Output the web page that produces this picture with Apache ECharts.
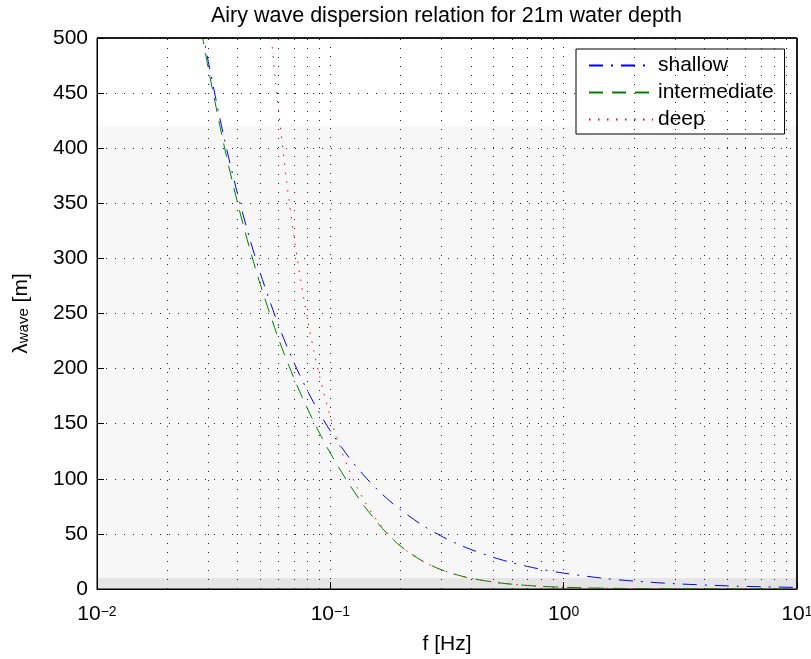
<!DOCTYPE html>
<html><head><meta charset="utf-8">
<script src="https://cdn.jsdelivr.net/npm/echarts@6/dist/echarts.min.js"></script>
<style>html,body{margin:0;padding:0;background:#fff}#c{width:811px;height:659px}</style>
</head><body><div id="c"></div>
<script>
// ---- data ----
const freq = [0.028, 0.03, 0.035, 0.04, 0.045, 0.05, 0.06, 0.07, 0.08, 0.09, 0.1, 0.12, 0.14, 0.16, 0.18, 0.2, 0.25, 0.3, 0.35, 0.4, 0.5, 0.6, 0.7, 0.8, 1, 1.5, 2, 3, 5, 7, 10];
const shallow = [512.6, 478.4, 410.1, 358.8, 319.0, 287.1, 239.2, 205.0, 179.4, 159.5, 143.5, 119.6, 102.5, 89.7, 79.7, 71.8, 57.4, 47.8, 41.0, 35.9, 28.7, 23.9, 20.5, 17.9, 14.4, 9.57, 7.18, 4.78, 2.87, 2.05, 1.44];
const intermediate = [506.9, 472.4, 403.0, 350.7, 309.8, 276.9, 227.0, 190.8, 163.2, 141.2, 123.3, 95.6, 75.1, 59.6, 47.8, 38.9, 25.0, 17.35, 12.75, 9.76, 6.25, 4.34, 3.19, 2.44, 1.56, 0.69, 0.39, 0.17, 0.06, 0.03, 0.016];
const deepFreq = [0.055, 0.058, 0.06, 0.065, 0.07, 0.075, 0.08, 0.085, 0.09, 0.1, 0.11, 0.12, 0.13, 0.14, 0.15, 0.16, 0.18, 0.2, 0.225, 0.25, 0.275, 0.3, 0.35, 0.4, 0.5, 0.6, 0.7, 0.8, 1, 1.5, 2, 3, 5, 7, 10];
const deep = [516.1, 464.1, 433.7, 369.5, 318.6, 277.6, 243.9, 216.1, 192.8, 156.1, 129.0, 108.4, 92.4, 79.7, 69.4, 61.0, 48.2, 39.0, 30.8, 25.0, 20.6, 17.35, 12.75, 9.76, 6.25, 4.34, 3.19, 2.44, 1.56, 0.69, 0.39, 0.17, 0.06, 0.03, 0.016];
const seriesNames = ['shallow', 'intermediate', 'deep'];
const xMinor = [0.02, 0.03, 0.04, 0.05, 0.06, 0.07, 0.08, 0.09, 0.2, 0.3, 0.4, 0.5, 0.6, 0.7, 0.8, 0.9, 2, 3, 4, 5, 6, 7, 8, 9];
const bands = [[0, 10], [10, 420]];
const xRange = [0.01, 10];
const yRange = [0, 500];
const yStep = 50;
const titleText = 'Airy wave dispersion relation for 21m water depth';

// ---- chart ----
const FONT = '"Liberation Sans", Arial, Helvetica, sans-serif';
const bandColors = ['#e5e5e5', '#f7f7f7'];
function gridDot() { return { color: '#222', width: 1, type: [1, 8] }; }

function supLabel(v) {
  const e = Math.round(Math.log10(v));
  return '{b|10}{s|' + (e < 0 ? '\u2212' + (-e) : String(e)) + '}';
}
function axisCommon() {
  return {
    axisLine: { show: true, onZero: false, lineStyle: { color: '#000', width: 1 } },
    axisTick: { show: true, inside: true, length: 7, lineStyle: { color: '#000' } },
    z: 3
  };
}

const chart = echarts.init(document.getElementById('c'), null, { renderer: 'canvas' });
chart.setOption({
  animation: false,
  backgroundColor: '#fff',
  textStyle: { fontFamily: FONT },
  title: {
    text: titleText,
    left: 206, top: 0,
    textStyle: { fontFamily: FONT, fontSize: 21.5, fontWeight: 'normal', color: '#000' }
  },
  grid: {
    left: 97, right: 14, top: 38, bottom: 70, containLabel: false, outerBoundsMode: 'none',
    show: true, backgroundColor: 'transparent', borderColor: '#000', borderWidth: 1, z: 3
  },
  legend: {
    data: seriesNames,
    orient: 'vertical',
    left: 576, top: 49,
    padding: [6, 11, 4, 12],
    itemGap: 6,
    itemWidth: 64, itemHeight: 14,
    backgroundColor: '#fff',
    borderColor: '#000', borderWidth: 1, borderRadius: 0,
    textStyle: { fontFamily: FONT, fontSize: 21, color: '#000' },
    itemStyle: { opacity: 0 }
  },
  xAxis: [
    Object.assign(axisCommon(), {
      type: 'log', logBase: 10, min: xRange[0], max: xRange[1], position: 'bottom',
      name: 'f [Hz]', nameLocation: 'middle', nameGap: 45,
      nameTextStyle: { fontFamily: FONT, fontSize: 21, color: '#000' },
      axisLabel: {
        margin: 16, formatter: supLabel, color: '#000',
        rich: {
          b: { fontFamily: FONT, fontSize: 21, lineHeight: 20, padding: [8, 0, 0, 0], verticalAlign: 'bottom', color: '#000' },
          s: { fontFamily: FONT, fontSize: 14, lineHeight: 14, verticalAlign: 'top', color: '#000' }
        }
      },
      splitLine: { show: true, lineStyle: gridDot() }
    })
  ],
  yAxis: [
    Object.assign(axisCommon(), {
      type: 'value', min: yRange[0], max: yRange[1], interval: yStep, position: 'left',
      name: '{a|\u03bb}{s|wave}{a| [m]}', nameLocation: 'middle', nameGap: 55, nameRotate: 90,
      nameTextStyle: {
        rich: {
          a: { fontFamily: FONT, fontSize: 21, lineHeight: 20, padding: [0, 0, 10, 0], verticalAlign: 'top', color: '#000' },
          s: { fontFamily: FONT, fontSize: 15, lineHeight: 14, verticalAlign: 'bottom', color: '#000' }
        }
      },
      axisLabel: { margin: 9, fontFamily: FONT, fontSize: 21, color: '#000' },
      splitLine: { show: true, lineStyle: gridDot() }
    })
  ],
  series: [
    {
      name: 'bands', type: 'line', data: [], z: 1, silent: true,
      markArea: {
        silent: true,
        data: bands.map((b, i) => [
          { xAxis: xRange[0], yAxis: b[0], itemStyle: { color: bandColors[i], opacity: 1 } },
          { xAxis: xRange[1], yAxis: b[1] }
        ])
      }
    },
    {
      name: 'minorGrid', type: 'line', data: [], z: 3, silent: true,
      markLine: {
        silent: true, symbol: ['none', 'none'], label: { show: false },
        lineStyle: gridDot(),
        data: xMinor.map(v => ({ xAxis: v }))
      }
    },
    {
      name: 'frame', type: 'line', data: [], z: 6, silent: true, clip: false,
      markLine: {
        silent: true, symbol: ['none', 'none'], label: { show: false },
        lineStyle: { color: '#000', width: 1.5, type: 'solid' },
        data: [{ yAxis: yRange[1] }, { xAxis: xRange[1] }]
      }
    },
    {
      name: seriesNames[0], type: 'line', z: 4, symbol: 'none', showSymbol: false, smooth: 0.3,
      data: freq.map((f, i) => [f, shallow[i]]),
      lineStyle: { color: '#0000ff', width: 1, type: [14, 8, 2, 8] },
      itemStyle: { color: '#0000ff' }
    },
    {
      name: seriesNames[1], type: 'line', z: 4, symbol: 'none', showSymbol: false, smooth: 0.3,
      data: freq.map((f, i) => [f, intermediate[i]]),
      lineStyle: { color: '#008000', width: 1, type: [14, 9] },
      itemStyle: { color: '#008000' }
    },
    {
      name: seriesNames[2], type: 'line', z: 5, symbol: 'none', showSymbol: false, smooth: 0.3,
      data: deepFreq.map((f, i) => [f, deep[i]]),
      lineStyle: { color: '#ff0000', width: 1, type: [1.5, 7.5] },
      itemStyle: { color: '#ff0000' }
    }
  ]
});
</script></body></html>
